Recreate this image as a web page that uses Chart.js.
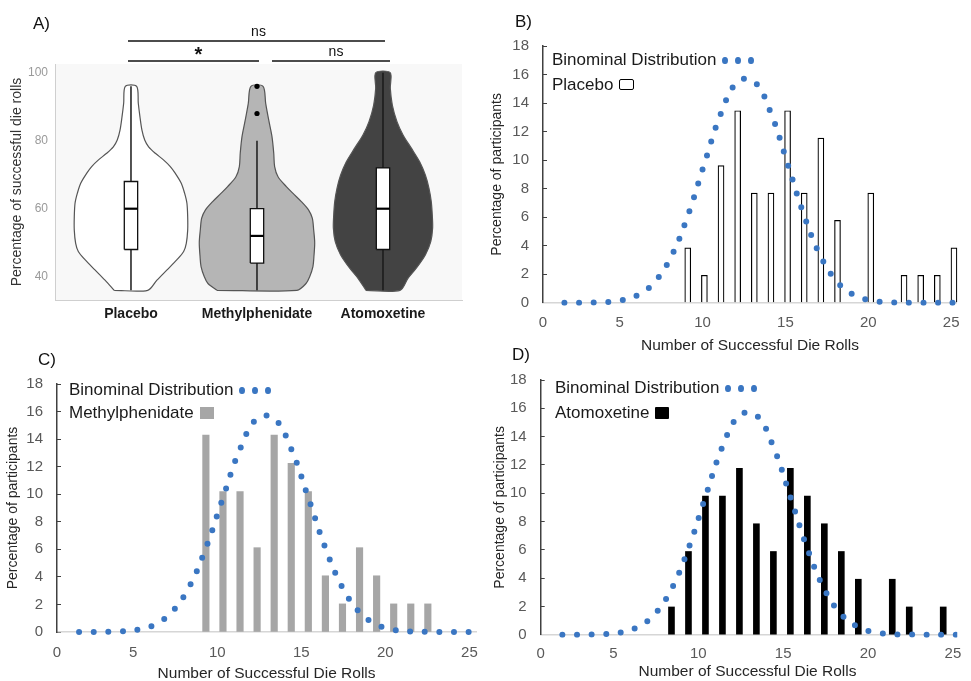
<!DOCTYPE html>
<html><head><meta charset="utf-8"><title>Die rolls</title>
<script src="https://cdn.jsdelivr.net/npm/chart.js@4.4.1/dist/chart.umd.min.js"></script>
<style>
 html,body{margin:0;padding:0;background:#fff;}
 body{position:relative;width:971px;height:681px;overflow:hidden;font-family:"Liberation Sans",Arial,sans-serif;}
 canvas{position:absolute;display:block;}
 .tag{position:absolute;font-size:17px;line-height:20px;color:#111;}
 .leg{position:absolute;font-size:17px;line-height:20px;color:#1a1a1a;white-space:nowrap;}
 .dot{display:inline-block;width:5.5px;height:7px;border-radius:50%;background:#3a76c2;vertical-align:middle;margin-left:7.5px;}
 .dot.first{margin-left:6px;}
 .sw{display:inline-block;vertical-align:middle;box-sizing:border-box;margin-left:6px;position:relative;top:-1px;}
</style></head>
<body>
<canvas id="cA" width="470" height="330" style="left:0;top:0"></canvas>
<canvas id="cB" width="501" height="365" style="left:470px;top:0"></canvas>
<canvas id="cC" width="490" height="350" style="left:0;top:338px"></canvas>
<canvas id="cD" width="481" height="350" style="left:490px;top:338px"></canvas>

<div class="tag" style="left:33px;top:14px">A)</div>
<div class="tag" style="left:515px;top:12px">B)</div>
<div class="tag" style="left:38px;top:350px">C)</div>
<div class="tag" style="left:512px;top:345px">D)</div>

<div class="leg" style="left:552px;top:50px">Binominal Distribution<span class="dot first"></span><span class="dot"></span><span class="dot"></span></div>
<div class="leg" style="left:552px;top:75px">Placebo<span class="sw" style="width:15px;height:11px;border:1.5px solid #000;border-radius:2px;background:#fff"></span></div>
<div class="leg" style="left:69px;top:380px">Binominal Distribution<span class="dot first"></span><span class="dot"></span><span class="dot"></span></div>
<div class="leg" style="left:69px;top:403px">Methylphenidate<span class="sw" style="width:14px;height:12px;background:#a6a6a6"></span></div>
<div class="leg" style="left:555px;top:378px">Binominal Distribution<span class="dot first"></span><span class="dot"></span><span class="dot"></span></div>
<div class="leg" style="left:555px;top:403px">Atomoxetine<span class="sw" style="width:14px;height:12px;background:#000;border-radius:1px;margin-left:5px"></span></div>

<script>
// ---------------- data ----------------
const groups = ['Placebo', 'Methylphenidate', 'Atomoxetine'];
const violinTicks = [40, 60, 80, 100];

// violin outlines: level (% successful) and half width (fraction of category spacing)
const placeboLevels = [36, 39, 42, 45, 47.4, 49.8, 53.7, 57.6, 61.6, 64.5, 67.5, 70.4, 72.4, 74.3, 76.3, 78.2, 80.2, 83.1, 87.1, 91, 96];
const placeboHalfWidth = [0.133, 0.206, 0.286, 0.365, 0.418, 0.439, 0.45, 0.45, 0.444, 0.426, 0.399, 0.352, 0.312, 0.26, 0.193, 0.14, 0.109, 0.087, 0.071, 0.058, 0.045];
const methLevels = [36, 38, 40, 43, 46, 50, 53.7, 57.2, 59.6, 62.1, 64.5, 66.5, 69.4, 72.4, 76.3, 81.2, 86.1, 91, 96];
const methHalfWidth = [0.317, 0.389, 0.418, 0.444, 0.452, 0.458, 0.45, 0.439, 0.41, 0.352, 0.286, 0.233, 0.167, 0.14, 0.133, 0.119, 0.093, 0.069, 0.048];
const atoLevels = [36, 39.5, 42.5, 46.4, 50.3, 54.3, 58.2, 62.1, 66, 69.9, 73.8, 77.8, 81.7, 85.6, 90.5, 95.4, 100];
const atoHalfWidth = [0.135, 0.198, 0.264, 0.336, 0.379, 0.394, 0.391, 0.383, 0.365, 0.336, 0.291, 0.225, 0.159, 0.111, 0.074, 0.058, 0.057];

const whiskerLow = [36, 36, 36];
const q1 = [48, 44, 48];
const median = [60, 52, 60];
const q3 = [68, 60, 72];
const whiskerHigh = [96, 80, 100];
const outliers = [[], [88, 96], []];
const comparisons = [
  {a: 1, b: 3, label: 'ns', row: 0},
  {a: 1, b: 2, label: '*', row: 1},
  {a: 2, b: 3, label: 'ns', row: 1}
];

const rolls = [1, 2, 3, 4, 5, 6, 7, 8, 9, 10, 11, 12, 13, 14, 15, 16, 17, 18, 19, 20, 21, 22, 23, 24, 25];
const binomialPct = [0, 0, 0.01, 0.04, 0.16, 0.53, 1.43, 3.22, 6.09, 9.74, 13.28, 15.5, 15.5, 13.28, 9.74, 6.09, 3.22, 1.43, 0.53, 0.16, 0.04, 0.01, 0, 0, 0];
const placeboPct = [0, 0, 0, 0, 0, 0, 0, 0, 3.85, 1.92, 9.62, 13.46, 7.69, 7.69, 13.46, 7.69, 11.54, 5.77, 0, 7.69, 0, 1.92, 1.92, 1.92, 3.85];
const methylphenidatePct = [0, 0, 0, 0, 0, 0, 0, 0, 14.29, 10.2, 10.2, 6.12, 14.29, 12.24, 10.2, 4.08, 2.04, 6.12, 4.08, 2.04, 2.04, 2.04, 0, 0, 0];
const atomoxetinePct = [0, 0, 0, 0, 0, 0, 0, 1.96, 5.88, 9.8, 9.8, 11.76, 7.84, 5.88, 11.76, 9.8, 7.84, 5.88, 3.92, 0, 3.92, 1.96, 0, 1.96, 0];
const xTickLabels = [0, 5, 10, 15, 20, 25];

// ---------------- setup ----------------
Chart.defaults.font.family = '"Liberation Sans", Arial, sans-serif';
const BLUE = '#3a76c2';

// ---------- Panel A : violins ----------
const violinFill = ['#ffffff', '#b5b5b5', '#434343'];
const violinShapes = [[placeboLevels, placeboHalfWidth], [methLevels, methHalfWidth], [atoLevels, atoHalfWidth]];
const dsA = [];
const BOXW = 0.053;
violinShapes.forEach(([lv, hw], g) => {
  const c = g + 1;
  const left = lv.map((y, i) => ({x: c - hw[i], y}));
  const right = lv.map((y, i) => ({x: c + hw[i], y})).reverse();
  const pts = left.concat(right, [left[0]]);
  dsA.push({label: groups[g], data: pts, showLine: true, fill: 'shape', backgroundColor: violinFill[g],
    borderColor: '#555', borderWidth: 1.2, pointRadius: 0, tension: 0.3, order: 10});
  dsA.push({data: [{x: c, y: whiskerLow[g]}, {x: c, y: whiskerHigh[g]}], showLine: true,
    borderColor: '#1a1a1a', borderWidth: 1.5, pointRadius: 0, tension: 0, order: 8});
  dsA.push({data: [{x: c - BOXW, y: q1[g]}, {x: c + BOXW, y: q1[g]}, {x: c + BOXW, y: q3[g]}, {x: c - BOXW, y: q3[g]}, {x: c - BOXW, y: q1[g]}],
    showLine: true, fill: 'shape', backgroundColor: '#ffffff', borderColor: '#111', borderWidth: 1.3, pointRadius: 0, tension: 0, order: 6});
  dsA.push({data: [{x: c - BOXW, y: median[g]}, {x: c + BOXW, y: median[g]}], showLine: true,
    borderColor: '#000', borderWidth: 2.2, pointRadius: 0, tension: 0, order: 4});
  if (outliers[g].length) {
    dsA.push({data: outliers[g].map(y => ({x: c, y})), showLine: false, pointRadius: 2.6,
      pointBackgroundColor: '#000', pointBorderWidth: 0, order: 2});
  }
});

const bgPlugin = {id: 'bgA', beforeDraw(c) {
  const {ctx, chartArea: a} = c;
  ctx.save(); ctx.fillStyle = '#f8f8f8';
  ctx.fillRect(a.left, a.top, a.right - a.left, a.bottom - a.top);
  ctx.restore();
}};
const sigPlugin = {id: 'sigA', afterDraw(c) {
  const {ctx, chartArea: a} = c;
  const sx = c.scales.x;
  ctx.save();
  ctx.strokeStyle = '#111'; ctx.fillStyle = '#111'; ctx.lineWidth = 1.5;
  ctx.textAlign = 'center'; ctx.textBaseline = 'middle';
  comparisons.forEach(cmp => {
    const y = cmp.row === 0 ? a.top - 23 : a.top - 3;
    let x1 = sx.getPixelForValue(cmp.a), x2 = sx.getPixelForValue(cmp.b);
    if (cmp.row === 0) { x1 -= 3; x2 += 2; }
    else if (cmp.a === 1) { x1 -= 3; x2 += 2; }
    else { x1 += 15; x2 += 7; }
    ctx.beginPath(); ctx.moveTo(x1, y); ctx.lineTo(x2, y); ctx.stroke();
    const mid = (x1 + x2) / 2 + (cmp.row === 0 ? 2 : 5);
    if (cmp.label === '*') {
      ctx.font = 'bold 20px "Liberation Sans", Arial, sans-serif';
      ctx.fillText(cmp.label, mid, y - 6);
    } else {
      ctx.font = '14px "Liberation Sans", Arial, sans-serif';
      ctx.fillText(cmp.label, mid, y - 9);
    }
  });
  ctx.restore();
}};

new Chart(document.getElementById('cA'), {
  type: 'scatter',
  data: {datasets: dsA},
  plugins: [bgPlugin, sigPlugin],
  options: {
    responsive: false, animation: false, events: [],
    layout: {padding: {left: 0, top: 64, right: 8, bottom: 0}},
    plugins: {legend: {display: false}, tooltip: {enabled: false}},
    scales: {
      x: {type: 'linear', min: 0.397, max: 3.627,
        afterBuildTicks: s => { s.ticks = groups.map((g, i) => ({value: i + 1})); },
        ticks: {autoSkip: false, maxRotation: 0, callback: (v, i) => groups[i], color: '#1a1a1a',
          font: {size: 14, weight: 'bold'}, padding: 5.5},
        grid: {display: false, drawTicks: false},
        border: {display: true, color: '#cfcfcf', width: 1},
        afterFit: s => { s.height = 30; }},
      y: {type: 'linear', min: 33.15, max: 102.56,
        afterBuildTicks: s => { s.ticks = violinTicks.map(v => ({value: v})); },
        ticks: {color: '#9a9a9a', font: {size: 12}, padding: 7},
        grid: {display: false, drawTicks: false},
        border: {display: true, color: '#cfcfcf', width: 1},
        title: {display: true, text: 'Percentage of successful die rolls', color: '#333', font: {size: 14}, padding: {top: 8.6, bottom: 0}},
        afterFit: s => { s.width = 55; }}
    }
  }
});

// ---------- Panels B, C, D : histograms ----------
function makeHist(id, cfg) {
  const barPts = rolls.map((k, i) => ({x: k, y: cfg.values[i]})).filter(p => p.y > 0);
  const curvePts = rolls.map((k, i) => ({x: k, y: binomialPct[i]}));
  return new Chart(document.getElementById(id), {
    type: 'bar',
    data: {datasets: [
      {type: 'line', label: 'Binominal Distribution', data: curvePts, xAxisID: 'x', yAxisID: 'y',
        borderColor: BLUE, borderWidth: 6, borderDash: [0, 14.6], borderDashOffset: 4.8, borderCapStyle: 'round',
        pointRadius: 0, tension: 0.4, fill: false, order: 0, clip: 3},
      {type: 'bar', label: cfg.label, data: barPts, xAxisID: 'x', yAxisID: 'y',
        backgroundColor: cfg.fill, borderColor: cfg.stroke, borderWidth: cfg.bw, barThickness: cfg.barW, order: 1, clip: false}
    ]},
    options: {
      responsive: false, animation: false, events: [],
      layout: {padding: {left: 0, top: cfg.top, right: cfg.W - cfg.right, bottom: 0}},
      plugins: {legend: {display: false}, tooltip: {enabled: false}},
      scales: {
        x: {type: 'linear', display: false, min: cfg.kMin, max: cfg.kMax, offset: false},
        xt: {type: 'linear', position: 'bottom', min: cfg.tMin, max: cfg.tMax, offset: false,
          afterBuildTicks: s => { s.ticks = xTickLabels.map(v => ({value: Math.max(v, s.min)})); },
          ticks: {autoSkip: false, maxRotation: 0, color: '#595959', font: {size: 15}, padding: cfg.tickPad,
            callback: (v, i) => String(xTickLabels[i])},
          grid: {display: false, drawTicks: false},
          border: {display: true, color: '#d6d6d6', width: 1.5},
          title: {display: true, text: 'Number of Successful Die Rolls', color: '#262626', font: {size: 15.5},
            padding: {top: 0, bottom: cfg.xTitlePad}},
          afterFit: s => { s.height = cfg.H - cfg.bottom; }},
        y: {type: 'linear', min: 0, max: 18, position: 'left',
          ticks: {stepSize: 2, color: '#595959', font: {size: 15}, padding: 18},
          grid: {display: true, drawOnChartArea: false, drawTicks: true, tickLength: -4, color: '#404040', lineWidth: 1},
          border: {display: true, color: '#404040', width: 1.5},
          title: {display: true, text: 'Percentage of participants', color: '#262626', font: {size: 14},
            padding: {top: cfg.yTitlePad, bottom: 0}},
          afterFit: s => { s.width = cfg.L; }}
      }
    }
  });
}

makeHist('cB', {values: placeboPct, label: 'Placebo', fill: '#ffffff', stroke: '#000', bw: 1.2, barW: 6,
  W: 501, H: 365, L: 73, top: 46, right: 501, bottom: 302.7,
  kMin: 0.30, kMax: 25.18, tMin: 0.37, tMax: 25.35, tickPad: 11.3, xTitlePad: 9.7, yTitlePad: 18.6});
makeHist('cC', {values: methylphenidatePct, label: 'Methylphenidate', fill: '#a6a6a6', stroke: '#a6a6a6', bw: 0, barW: 6.5,
  W: 490, H: 350, L: 57, top: 46, right: 480, bottom: 294,
  kMin: 0.28, kMax: 24.83, tMin: 0.47, tMax: 25.4, tickPad: 12, xTitlePad: 5.4, yTitlePad: 4.9});
makeHist('cD', {values: atomoxetinePct, label: 'Atomoxetine', fill: '#000000', stroke: '#000', bw: 0, barW: 6,
  W: 481, H: 350, L: 50.7, top: 42, right: 465, bottom: 296.7,
  kMin: 0.30, kMax: 24.65, tMin: 0.71, tMax: 25.08, tickPad: 9.7, xTitlePad: 7, yTitlePad: 1.6});
</script>
</body></html>
